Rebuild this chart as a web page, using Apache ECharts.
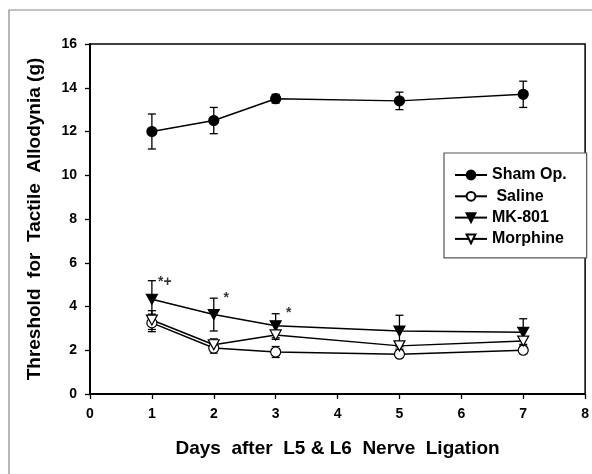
<!DOCTYPE html>
<html>
<head>
<meta charset="utf-8">
<script src="https://cdn.jsdelivr.net/npm/echarts@6/dist/echarts.min.js"></script>
<style>
  html, body { margin: 0; padding: 0; background: #fff; }
  #chart { width: 592px; height: 474px; }
</style>
</head>
<body>
<div id="chart"></div>
<script>
// days after ligation
const days = [1, 2, 3, 5, 7]

const shamMean = [12.0, 12.5, 13.5, 13.4, 13.7]
const shamErr = [0.8, 0.6, 0.2, 0.4, 0.6]
const salineMean = [3.25, 2.1, 1.92, 1.82, 2.0]
const salineErr = [0.4, 0.23, 0.25, 0.15, 0.15]
const mkMean = [4.33, 3.63, 3.12, 2.88, 2.82]
const mkErr = [0.85, 0.75, 0.55, 0.72, 0.62]
const morphMean = [3.38, 2.25, 2.7, 2.2, 2.42]
const morphErr = [0.43, 0.27, 0.2, 0.15, 0.15]

// significance marks
const annX = [1.21, 2.2, 3.21]
const annY = [5.12, 4.4, 3.7]
const annText = ['*+', '*', '*']

const FONT = 'Liberation Sans, Arial, sans-serif'
const triDown = 'path://M0,0 L10,0 L5,9 Z'

function pairs(ys) {
  return days.map((d, i) => [d, ys[i]])
}

function errSeries(mean, err) {
  return {
    type: 'custom',
    silent: true,
    z: 1,
    data: days.map((d, i) => [d, mean[i] - err[i], mean[i] + err[i]]),
    renderItem(params, api) {
      const lo = api.coord([api.value(0), api.value(1)])
      const hi = api.coord([api.value(0), api.value(2)])
      const w = 4
      const style = { stroke: '#000', lineWidth: 1.3 }
      return {
        type: 'group',
        children: [
          { type: 'line', shape: { x1: lo[0], y1: lo[1], x2: hi[0], y2: hi[1] }, style },
          { type: 'line', shape: { x1: lo[0] - w, y1: lo[1], x2: lo[0] + w, y2: lo[1] }, style },
          { type: 'line', shape: { x1: hi[0] - w, y1: hi[1], x2: hi[0] + w, y2: hi[1] }, style }
        ]
      }
    }
  }
}

function lineSeries(name, mean, symbol, size, filled) {
  return {
    name: name,
    type: 'line',
    z: 3,
    data: pairs(mean),
    symbol: symbol,
    symbolSize: size,
    showAllSymbol: true,
    lineStyle: { color: '#000', width: 1.5 },
    itemStyle: { color: filled ? '#000' : '#fff', borderColor: '#000', borderWidth: 1.2 },
    emphasis: { disabled: true }
  }
}

const chart = echarts.init(document.getElementById('chart'))

chart.setOption({
  animation: false,
  textStyle: { fontFamily: FONT },
  graphic: [{
    type: 'rect',
    shape: { x: 9, y: 10, width: 640, height: 520 },
    style: { fill: 'none', stroke: '#888', lineWidth: 1.2 },
    z: -10
  }],
  grid: {
    left: 90,
    top: 44,
    right: 4,
    bottom: 80,
    show: true,
    borderColor: '#000',
    borderWidth: 1.5
  },
  legend: {
    orient: 'vertical',
    left: 444,
    top: 153,
    padding: [14, 20, 11, 10],
    itemGap: 5.3,
    itemWidth: 32,
    itemHeight: 11,
    borderColor: '#555',
    borderWidth: 1.2,
    backgroundColor: '#fff',
    textStyle: { fontFamily: FONT, fontSize: 16, fontWeight: 'bold', color: '#000', lineHeight: 16 },
    data: ['Sham Op.', ' Saline', 'MK-801', 'Morphine']
  },
  xAxis: {
    type: 'value',
    min: 0,
    max: 8,
    interval: 1,
    name: 'Days  after  L5 & L6  Nerve  Ligation',
    nameLocation: 'middle',
    nameGap: 45,
    nameTextStyle: { fontFamily: FONT, fontSize: 19, fontWeight: 'bold', color: '#000' },
    axisLine: { lineStyle: { color: '#000', width: 2 } },
    axisTick: { length: 5, lineStyle: { color: '#000', width: 1.3 } },
    axisLabel: { margin: 13, fontFamily: FONT, fontSize: 14, fontWeight: 'bold', color: '#000' },
    splitLine: { show: false }
  },
  yAxis: {
    type: 'value',
    min: 0,
    max: 16,
    interval: 2,
    name: 'Threshold  for  Tactile  Allodynia (g)',
    nameLocation: 'middle',
    nameGap: 46,
    nameTextStyle: { fontFamily: FONT, fontSize: 19, fontWeight: 'bold', color: '#000' },
    axisLine: { lineStyle: { color: '#000', width: 2 } },
    axisTick: { length: 5, lineStyle: { color: '#000', width: 1.3 } },
    axisLabel: { margin: 13, fontFamily: FONT, fontSize: 14, fontWeight: 'bold', color: '#000' },
    splitLine: { show: false }
  },
  series: [
    errSeries(shamMean, shamErr),
    errSeries(salineMean, salineErr),
    errSeries(mkMean, mkErr),
    errSeries(morphMean, morphErr),
    lineSeries('Sham Op.', shamMean, 'circle', 10, true),
    lineSeries(' Saline', salineMean, 'circle', 10, false),
    lineSeries('MK-801', mkMean, triDown, [11, 10], true),
    lineSeries('Morphine', morphMean, triDown, [11, 10], false),
    {
      type: 'scatter',
      silent: true,
      symbolSize: 0,
      z: 5,
      data: annX.map((x, i) => ({ value: [x, annY[i]], name: annText[i] })),
      label: {
        show: true,
        position: 'inside',
        formatter: p => p.name,
        fontFamily: FONT,
        fontSize: 14,
        fontWeight: 'bold',
        color: '#000'
      }
    }
  ]
})
</script>
</body>
</html>
